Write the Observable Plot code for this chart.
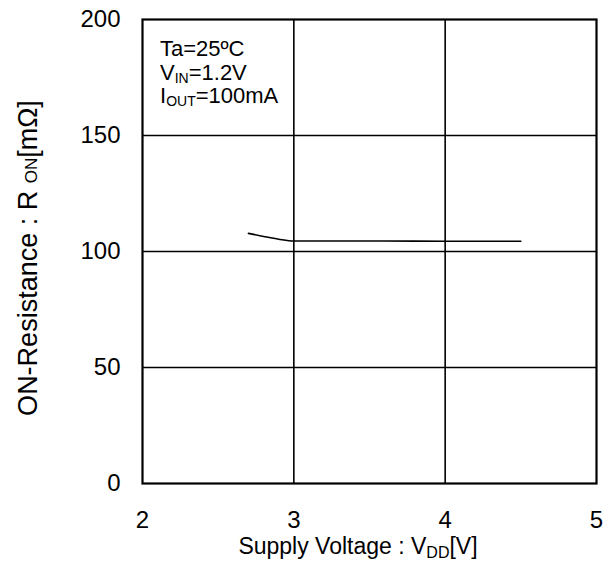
<!DOCTYPE html>
<html><head><meta charset="utf-8">
<script src="https://cdn.jsdelivr.net/npm/d3@7"></script>
<script src="https://cdn.jsdelivr.net/npm/@observablehq/plot@0.6"></script>
<style>
body{margin:0;background:#fff;font-family:"Liberation Sans",Arial,sans-serif;}
</style></head>
<body><div id="chart"></div>
<script>
const vdd = [2.7, 2.8, 2.9, 3.0, 3.6, 4.0, 4.5];
const ron = [107.8, 106.5, 105.3, 104.5, 104.5, 104.4, 104.4];
const xTicks = [2, 3, 4, 5];
const yTicks = [0, 50, 100, 150, 200];
const gridX = [3, 4];
const gridY = [50, 100, 150];

const data = vdd.map((v, i) => ({vdd: v, ron: ron[i]}));

const plot = Plot.plot({
  width: 606, height: 568,
  marginLeft: 142, marginRight: 10, marginTop: 19, marginBottom: 85,
  style: {fontFamily: '"Liberation Sans", Arial, sans-serif', fontSize: "24px", color: "#000", background: "#fff"},
  x: {domain: [2, 5]},
  y: {domain: [0, 200]},
  marks: [
    Plot.ruleX(gridX, {stroke: "#000", strokeWidth: 1.6}),
    Plot.ruleY(gridY, {stroke: "#000", strokeWidth: 1.6}),
    Plot.frame({stroke: "#000", strokeWidth: 2.2}),
    Plot.axisX(xTicks, {tickSize: 0, tickPadding: 27, fontSize: 24, label: null, tickFormat: d => String(d)}),
    Plot.axisY(yTicks, {tickSize: 0, tickPadding: 22, fontSize: 24, label: null, tickFormat: d => String(d)}),
    Plot.line(data, {x: "vdd", y: "ron", stroke: "#000", strokeWidth: 1.6, curve: "monotone-x"})
  ]
});
document.getElementById("chart").appendChild(plot);

const svg = d3.select(plot);
const ff = '"Liberation Sans", Arial, sans-serif';
// x-axis title
const xt = svg.append("text").attr("x", 358).attr("y", 554).attr("text-anchor", "middle")
  .attr("font-family", ff).attr("font-size", 23).attr("fill", "#000");
xt.append("tspan").text("Supply Voltage : V");
xt.append("tspan").attr("font-size", 16).attr("dy", 4).text("DD");
xt.append("tspan").attr("dy", -4).text("[V]");
// y-axis title
const yt = svg.append("text").attr("transform", "translate(37,258) rotate(-90)").attr("text-anchor", "middle")
  .attr("font-family", ff).attr("font-size", 27).attr("fill", "#000");
yt.append("tspan").text("ON-Resistance : R ");
yt.append("tspan").attr("font-size", 17).text("ON");
yt.append("tspan").text("[mΩ]");
// annotation
const ann = svg.append("g").attr("font-family", ff).attr("font-size", 22).attr("fill", "#000").attr("text-anchor", "start");
ann.append("text").attr("x", 160).attr("y", 56).text("Ta=25ºC");
const l2 = ann.append("text").attr("x", 160).attr("y", 79.5);
l2.append("tspan").text("V");
l2.append("tspan").attr("font-size", 14).attr("dy", 3).text("IN");
l2.append("tspan").attr("dy", -3).text("=1.2V");
const l3 = ann.append("text").attr("x", 160).attr("y", 103);
l3.append("tspan").text("I");
l3.append("tspan").attr("font-size", 14).attr("dy", 3).text("OUT");
l3.append("tspan").attr("dy", -3).text("=100mA");
</script></body></html>
